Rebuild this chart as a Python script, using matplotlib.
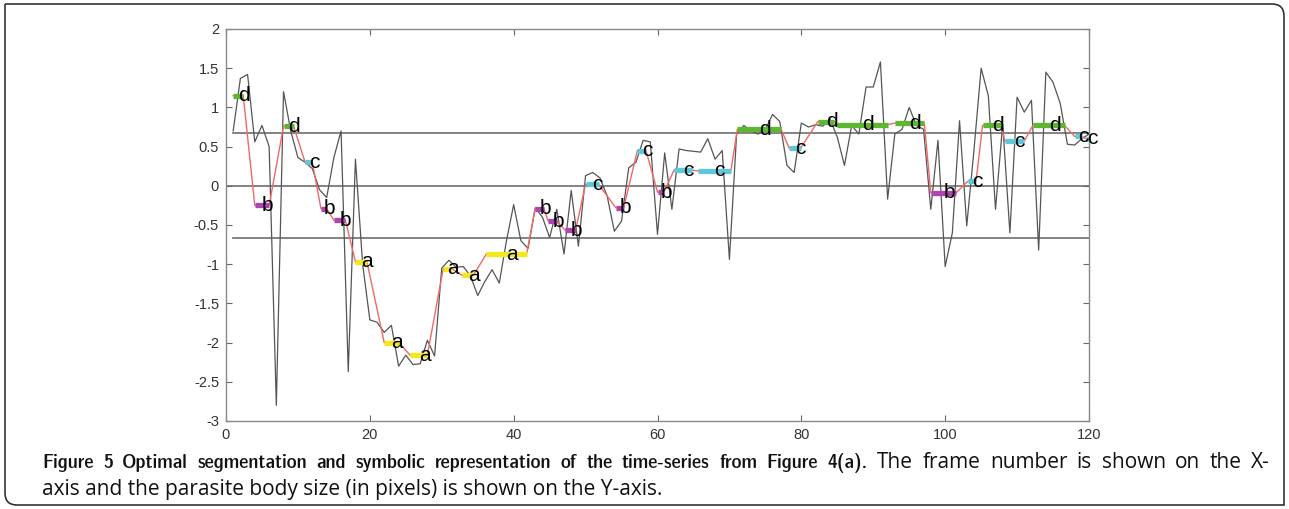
import matplotlib
matplotlib.use("Agg")
import matplotlib.pyplot as plt
from matplotlib import font_manager
from matplotlib.font_manager import FontProperties
from matplotlib.patches import PathPatch
from matplotlib.path import Path
from matplotlib.transforms import IdentityTransform


# time series (parasite body size per frame)
FRAMES = list(range(1, 121))
SIZE = [
    0.70, 1.37, 1.42, 0.56, 0.77, 0.50, -2.80, 1.20, 0.70, 0.36,
    0.30, 0.22, -0.05, -0.15, 0.36, 0.70, -2.37, 0.34, -1.00, -1.71,
    -1.74, -1.87, -1.78, -2.30, -2.16, -2.28, -2.27, -1.97, -2.17, -1.05,
    -0.95, -1.04, -1.03, -1.15, -1.40, -1.22, -1.07, -1.24, -0.70, -0.24,
    -0.70, -0.80, -0.28, -0.40, -0.66, -0.30, -0.87, -0.06, -0.77, 0.13,
    0.17, 0.10, -0.13, -0.58, -0.45, 0.23, 0.30, 0.58, 0.56, -0.62,
    0.42, -0.30, 0.47, 0.45, 0.44, 0.43, 0.60, 0.34, 0.45, -0.94,
    0.66, 0.77, 0.70, 0.66, 0.72, 0.91, 0.82, 0.26, 0.17, 0.80,
    0.75, 0.78, 0.76, 0.85, 0.62, 0.26, 0.77, 0.66, 1.26, 1.26,
    1.58, -0.17, 0.66, 0.72, 1.00, 0.77, 0.72, -0.30, 0.58, -1.03,
    -0.60, 0.83, -0.51, 0.45, 1.50, 1.15, -0.30, 0.79, -0.60, 1.13,
    0.94, 1.09, -0.82, 1.45, 1.32, 1.05, 0.53, 0.52, 0.60, 0.66,
]

# optimal segmentation: start frame, end frame, mean level, symbol
SEG_START = [1.0, 4.0, 8.0, 11.0, 13.2, 15.0, 18.0, 22.0, 25.6, 30.2,
             32.8, 36.2, 43.0, 44.8, 47.2, 50.0, 54.2, 57.2, 60.0, 62.3,
             65.6, 71.1, 78.3, 82.3, 85.0, 93.0, 98.0, 103.2, 105.2, 108.3,
             112.2, 118.0, 119.6]
SEG_END = [2.4, 6.0, 9.4, 12.0, 14.0, 16.6, 19.6, 24.0, 28.0, 31.4,
           34.4, 41.8, 44.2, 46.0, 48.6, 51.8, 55.3, 58.4, 60.9, 64.8,
           70.2, 77.2, 79.9, 84.6, 92.0, 97.1, 101.5, 104.3, 107.8, 111.0,
           116.6, 119.0, 120.0]
SEG_LEVEL = [1.15, -0.25, 0.76, 0.30, -0.29, -0.44, -0.97, -2.00, -2.16, -1.06,
             -1.14, -0.87, -0.29, -0.45, -0.57, 0.02, -0.28, 0.45, -0.08, 0.20,
             0.19, 0.72, 0.48, 0.82, 0.78, 0.80, -0.09, 0.06, 0.77, 0.57,
             0.77, 0.63, 0.60]
SEG_SYMBOL = ["d", "b", "d", "c", "b", "b", "a", "a", "a", "a",
              "a", "a", "b", "b", "b", "c", "b", "c", "b", "c",
              "c", "d", "c", "d", "d", "d", "b", "c", "d", "c",
              "d", "c", "c"]

# SAX breakpoints for a 4-letter alphabet
BREAKPOINTS = [-0.67, 0.0, 0.67]

X_TICKS = [0, 20, 40, 60, 80, 100, 120]
Y_TICKS = [-3, -2.5, -2, -1.5, -1, -0.5, 0, 0.5, 1, 1.5, 2]
Y_TICK_LABELS = ["-3", "-2.5", "-2", "-1.5", "-1", "-0.5", "0", "0.5", "1", "1.5", "2"]

SYMBOL_COLORS = {"a": "#f2e81c", "b": "#b044b0", "c": "#5cc8da", "d": "#5db830"}

CAPTION_BOLD = ("Figure 5 Optimal segmentation and symbolic representation "
                "of the time-series from Figure 4(a).")
CAPTION_REST = "The frame number is shown on the X-"
CAPTION_LINE2 = "axis and the parasite body size (in pixels) is shown on the Y-axis."


def pick_font(candidates):
    installed = {f.name for f in font_manager.fontManager.ttflist}
    for name in candidates:
        if name in installed:
            return name
    return "DejaVu Sans"


def as_number(value, table, default):
    if isinstance(value, str):
        return table.get(value, default)
    return value


def find_condensed_bold():
    """Look for a narrow bold face, like the condensed bold of the journal caption."""
    best = None
    for f in font_manager.fontManager.ttflist:
        weight = as_number(f.weight, font_manager.weight_dict, 400)
        stretch = as_number(f.stretch, font_manager.stretch_dict, 500)
        narrow = ("Condensed" in f.name or "Narrow" in f.name or stretch < 500)
        if narrow and 600 <= weight <= 800 and "Mono" not in f.name:
            if best is None or "Sans" in f.name:
                best = f
    if best is None:
        return None
    return FontProperties(fname=best.fname)


def draw_caption(fig, W, H):
    renderer = fig.canvas.get_renderer()
    regular = FontProperties(family=pick_font(["Open Sans", "Noto Sans", "Lato"]), size=15)
    bold = find_condensed_bold()
    if bold is None:
        bold = FontProperties(family=pick_font(["Roboto", "Open Sans"]), weight="bold")
        bold.set_size(14)
    else:
        bold.set_size(15)

    x_left, x_right = 42, 1270
    y1, y2 = 1 - 463 / H, 1 - 489 / H

    # first line is justified across the text block
    items = [fig.text(0, y1, w, fontproperties=bold, va="center", color="#111111")
             for w in CAPTION_BOLD.split()]
    items += [fig.text(0, y1, w, fontproperties=regular, va="center", color="#111111")
              for w in CAPTION_REST.split()]
    widths = [t.get_window_extent(renderer).width for t in items]
    gap = max(4, (x_right - x_left - sum(widths)) / (len(items) - 1))
    x = x_left
    for t, w in zip(items, widths):
        t.set_x(x / W)
        x += w + gap

    fig.text(x_left / W, y2, CAPTION_LINE2, fontproperties=regular,
             va="center", color="#111111")


def draw_frame(fig, W, H):
    # square top-left / bottom-right, rounded top-right / bottom-left
    x0, y0, x1, y1, r = 5, 4, W - 5, H - 4, 12
    verts = [(x0, y1), (x1 - r, y1), (x1, y1), (x1, y1 - r), (x1, y0),
             (x0 + r, y0), (x0, y0), (x0, y0 + r), (x0, y1)]
    codes = [Path.MOVETO, Path.LINETO, Path.CURVE3, Path.CURVE3, Path.LINETO,
             Path.LINETO, Path.CURVE3, Path.CURVE3, Path.LINETO]
    patch = PathPatch(Path(verts, codes), transform=IdentityTransform(),
                      fill=False, edgecolor="#333333", lw=1.2)
    fig.patches.append(patch)


def main():
    plt.rcParams["axes.unicode_minus"] = False
    plot_font = pick_font(["Liberation Sans", "Arial"])

    W, H = 1289, 509
    fig = plt.figure(figsize=(W / 100, H / 100), dpi=100)

    left, right, top, bottom = 226, 1089, 29, 421
    ax = fig.add_axes([left / W, 1 - bottom / H, (right - left) / W, (bottom - top) / H])

    # breakpoint lines
    for bp in BREAKPOINTS:
        x0 = 0 if bp == 0 else FRAMES[0]
        ax.plot([x0, FRAMES[-1]], [bp, bp], color="#7a7a7a", lw=1.3, zorder=1)

    # raw series
    ax.plot(FRAMES, SIZE, color="#555555", lw=0.9, zorder=2)

    # red connector through the segments
    path_x, path_y = [], []
    for s, e, v in zip(SEG_START, SEG_END, SEG_LEVEL):
        path_x += [s, e]
        path_y += [v, v]
    ax.plot(path_x, path_y, color="#f06868", lw=1.0, zorder=3)

    # segment bars and symbols
    for s, e, v, sym in zip(SEG_START, SEG_END, SEG_LEVEL, SEG_SYMBOL):
        ax.plot([s, e], [v, v], color=SYMBOL_COLORS[sym], lw=3.8,
                solid_capstyle="butt", zorder=4)
        ax.text((s + e) / 2, v, sym, ha="left", va="center", fontsize=15,
                family=plot_font, color="black", zorder=5, clip_on=False)

    ax.set_xlim(0, 120)
    ax.set_ylim(-3, 2)
    ax.set_xticks(X_TICKS)
    ax.set_yticks(Y_TICKS)
    ax.set_yticklabels(Y_TICK_LABELS)
    ax.tick_params(direction="in", top=True, right=True, length=4,
                   width=0.8, color="#666666", labelsize=10.5,
                   labelcolor="#333333", pad=5)
    for label in ax.get_xticklabels() + ax.get_yticklabels():
        label.set_family(plot_font)
    for spine in ax.spines.values():
        spine.set_color("#888888")
        spine.set_linewidth(1.0)

    draw_caption(fig, W, H)
    draw_frame(fig, W, H)

    fig.savefig("out.png", dpi=100)
    plt.close(fig)


if __name__ == "__main__":
    main()
